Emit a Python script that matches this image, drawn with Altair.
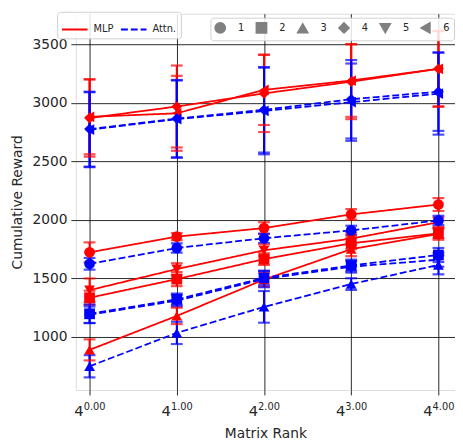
import altair as alt
import pandas as pd

# ---- data ----
exponents = [0, 1, 2, 3, 4]
tick_base = ["4", "4", "4", "4", "4"]
tick_exp = ["0.00", "1.00", "2.00", "3.00", "4.00"]

kinds = ["MLP", "Attn."]
marker_ids = ["1", "2", "3", "4", "5", "6"]
marker_shapes = ["circle", "square", "triangle-up", "diamond", "triangle-down", "triangle-left"]

mlp_1_mean = [1723, 1857, 1930, 2047, 2131]
mlp_1_err = [85, 30, 50, 45, 55]
mlp_2_mean = [1335, 1494, 1665, 1800, 1885]
mlp_2_err = [60, 60, 50, 50, 40]
mlp_3_mean = [890, 1180, 1490, 1750, 1880]
mlp_3_err = [90, 70, 60, 60, 50]
mlp_4_mean = [2870, 2968, 3080, 3180, 3290]
mlp_4_err = [330, 350, 330, 320, 325]
mlp_5_mean = [1400, 1580, 1740, 1840, 1980]
mlp_5_err = [100, 50, 50, 50, 40]
mlp_6_mean = [2880, 2910, 3110, 3190, 3290]
mlp_6_err = [320, 320, 300, 310, 320]

attn_1_mean = [1625, 1760, 1843, 1910, 1995]
attn_1_err = [50, 40, 40, 40, 40]
attn_2_mean = [1198, 1321, 1505, 1611, 1700]
attn_2_err = [80, 50, 60, 50, 60]
attn_3_mean = [750, 1035, 1257, 1452, 1615]
attn_3_err = [95, 95, 135, 50, 80]
attn_4_mean = [2775, 2865, 2940, 3030, 3095]
attn_4_err = [320, 330, 365, 335, 335]
attn_5_mean = [1190, 1310, 1495, 1600, 1660]
attn_5_err = [70, 50, 70, 50, 60]
attn_6_mean = [2770, 2860, 2930, 3005, 3078]
attn_6_err = [320, 330, 370, 330, 350]

series = {
    ("MLP", "1"): (mlp_1_mean, mlp_1_err),
    ("MLP", "2"): (mlp_2_mean, mlp_2_err),
    ("MLP", "3"): (mlp_3_mean, mlp_3_err),
    ("MLP", "4"): (mlp_4_mean, mlp_4_err),
    ("MLP", "5"): (mlp_5_mean, mlp_5_err),
    ("MLP", "6"): (mlp_6_mean, mlp_6_err),
    ("Attn.", "1"): (attn_1_mean, attn_1_err),
    ("Attn.", "2"): (attn_2_mean, attn_2_err),
    ("Attn.", "3"): (attn_3_mean, attn_3_err),
    ("Attn.", "4"): (attn_4_mean, attn_4_err),
    ("Attn.", "5"): (attn_5_mean, attn_5_err),
    ("Attn.", "6"): (attn_6_mean, attn_6_err),
}

rows = []
for (kind, m), (means, errs) in series.items():
    for x, v, e in zip(exponents, means, errs):
        rows.append({"kind": kind, "marker": m, "key": kind + m, "x": x,
                     "mean": v, "lo": v - e, "hi": v + e})
df = pd.DataFrame(rows)
ticks = pd.DataFrame({"x": exponents, "base": tick_base, "exp": tick_exp})

FONT = "DejaVu Sans"
W, H = 386, 383

xscale = alt.Scale(domain=[-0.158, 4.19], nice=False, zero=False)
yscale = alt.Scale(domain=[547, 3760], nice=False, zero=False)
cscale = alt.Scale(domain=kinds, range=["#ff0000", "#0000ff"])
dscale = alt.Scale(domain=kinds, range=[[1, 0], [7, 3]])
sscale = alt.Scale(domain=marker_ids, range=marker_shapes)

xaxis = alt.Axis(values=exponents, labels=False, title="Matrix Rank", grid=True,
                 gridColor="#000", gridOpacity=0.85, gridWidth=1, ticks=True, tickSize=5,
                 tickColor="#000", tickOpacity=0.85, domain=False, titleFontSize=14,
                 titleFont=FONT, titleFontWeight="normal", titleColor="#262626", titlePadding=32)
yaxis = alt.Axis(values=[1000, 1500, 2000, 2500, 3000, 3500], format="d", title="Cumulative Reward",
                 grid=True, gridColor="#000", gridOpacity=0.85, gridWidth=1, ticks=True,
                 tickSize=5, tickColor="#000", tickOpacity=0.85, domain=False,
                 labelFontSize=14, labelFont=FONT, labelColor="#262626", labelPadding=4,
                 titleFontSize=14, titleFont=FONT, titleFontWeight="normal",
                 titleColor="#262626", titlePadding=8)

line_legend = alt.Legend(title=None, orient="none", legendX=-19, legendY=-2,
                         direction="horizontal", symbolType="stroke",
                         symbolSize=676, symbolStrokeWidth=2,
                         labelFont=FONT, labelFontSize=10, labelColor="#262626",
                         labelOffset=5, columnPadding=3, padding=4,
                         fillColor="rgba(255,255,255,0.85)", strokeColor="#d0d0d0",
                         cornerRadius=3)

base = alt.Chart(df)

lines = base.mark_line(strokeWidth=1.8).encode(
    x=alt.X("x:Q", scale=xscale, axis=xaxis),
    y=alt.Y("mean:Q", scale=yscale, axis=yaxis),
    color=alt.Color("kind:N", scale=cscale, sort=kinds, legend=line_legend),
    strokeDash=alt.StrokeDash("kind:N", scale=dscale, sort=kinds, legend=line_legend),
    detail="key:N",
    order="x:Q",
)

rules = base.mark_rule(strokeWidth=2).encode(
    x="x:Q", y="lo:Q", y2="hi:Q",
    color=alt.Color("kind:N", scale=cscale, legend=None),
    detail="key:N",
)
caps_lo = base.mark_tick(orient="horizontal", size=12, thickness=2.2).encode(
    x="x:Q", y="lo:Q", color=alt.Color("kind:N", scale=cscale, legend=None))
caps_hi = base.mark_tick(orient="horizontal", size=12, thickness=2.2).encode(
    x="x:Q", y="hi:Q", color=alt.Color("kind:N", scale=cscale, legend=None))

points = base.mark_point(filled=True, opacity=1, size=120).encode(
    x="x:Q", y="mean:Q",
    color=alt.Color("kind:N", scale=cscale, legend=None),
    shape=alt.Shape("marker:N", scale=sscale,
                    legend=alt.Legend(title=None, orient="none", legendX=137, legendY=4,
                                      direction="horizontal", symbolSize=110,
                                      symbolFillColor="#808080", symbolStrokeColor="#808080",
                                      labelFont=FONT, labelFontSize=10, labelColor="#262626",
                                      labelOffset=12, columnPadding=8, padding=4,
                                      fillColor="rgba(255,255,255,0.85)", strokeColor="#d0d0d0",
                                      cornerRadius=3)),
)

tick_base_text = alt.Chart(ticks).mark_text(
    align="right", baseline="alphabetic", dx=-6, fontSize=15, font=FONT, color="#262626"
).encode(x="x:Q", y=alt.value(H + 26), text="base:N")
tick_exp_text = alt.Chart(ticks).mark_text(
    align="left", baseline="alphabetic", dx=-6, fontSize=10, font=FONT, color="#262626"
).encode(x="x:Q", y=alt.value(H + 20), text="exp:N")

chart = alt.layer(rules, caps_lo, caps_hi, lines, points, tick_base_text, tick_exp_text).resolve_scale(
    color="independent", strokeDash="independent"
).properties(
    width=W, height=H,
    autosize=alt.AutoSizeParams(type="none"),
    padding={"left": 69, "top": 2, "right": 0, "bottom": 48},
).configure_view(stroke=None).configure(background="white")

chart.save("out.html", embed_options={"renderer": "svg", "actions": False})
